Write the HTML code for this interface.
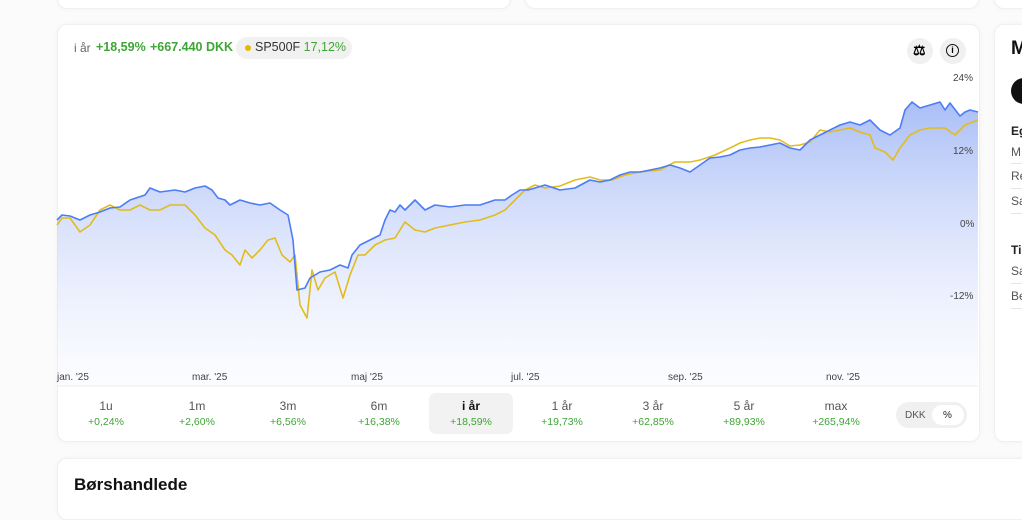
<!DOCTYPE html>
<html><head><meta charset="utf-8"><style>
body{margin:0;width:1022px;height:500px;overflow:hidden;background:#fbfbfb;font-family:"Liberation Sans",sans-serif;position:relative}
.card{position:absolute;background:#fff;border:1px solid #f0f0f0;border-radius:10px;box-shadow:0 0 6px rgba(0,0,0,.04)}
.t{position:absolute;white-space:nowrap}
.g{color:#3fa535}
.btn{position:absolute;width:26px;height:26px;border-radius:50%;background:#f0f0f0;top:38px}
.per{position:absolute;top:393px;width:84px;height:41px;text-align:center;font-size:11px}
.per .a{color:#555;margin-top:6px;font-size:12px}
.per .b{color:#3fa535;margin-top:3px;font-size:10.5px}
.ax{position:absolute;font-size:10px;color:#444}
</style></head><body>
<div class="card" style="left:57px;top:-12px;width:452px;height:19px"></div>
<div class="card" style="left:525px;top:-12px;width:452px;height:19px"></div>
<div class="card" style="left:994px;top:-12px;width:60px;height:19px"></div>
<div class="card" style="left:57px;top:24px;width:921px;height:416px"></div>
<div class="card" style="left:994px;top:24px;width:60px;height:416px"></div>
<div class="card" style="left:57px;top:458px;width:1000px;height:60px"></div>
<div class="t" style="left:74px;top:475px;font-size:17px;font-weight:bold;color:#111">Børshandlede</div>
<div class="t" style="left:1011px;top:38px;font-size:19px;font-weight:bold;color:#111">M</div>
<div style="position:absolute;left:1011px;top:78px;width:26px;height:26px;border-radius:50%;background:#111"></div>
<div class="t" style="left:1011px;top:124px;font-size:12px;font-weight:bold;color:#222">Eg</div>
<div class="t" style="left:1011px;top:145px;font-size:12px;color:#555">M</div>
<div class="t" style="left:1011px;top:169px;font-size:12px;color:#555">Re</div>
<div class="t" style="left:1011px;top:194px;font-size:12px;color:#555">Sa</div>
<div class="t" style="left:1011px;top:243px;font-size:12px;font-weight:bold;color:#222">Ti</div>
<div class="t" style="left:1011px;top:264px;font-size:12px;color:#555">Sa</div>
<div class="t" style="left:1011px;top:289px;font-size:12px;color:#555">Be</div>
<div style="position:absolute;left:1011px;top:163px;width:20px;border-top:1px solid #e5e5e5"></div>
<div style="position:absolute;left:1011px;top:188px;width:20px;border-top:1px solid #e5e5e5"></div>
<div style="position:absolute;left:1011px;top:213px;width:20px;border-top:1px solid #e5e5e5"></div>
<div style="position:absolute;left:1011px;top:283px;width:20px;border-top:1px solid #e5e5e5"></div>
<div style="position:absolute;left:1011px;top:308px;width:20px;border-top:1px solid #e5e5e5"></div>

<div class="t" style="left:74px;top:41px;font-size:12px;color:#666">i år</div>
<div class="t g" style="left:96px;top:40px;font-size:12.5px;font-weight:bold">+18,59%</div>
<div class="t g" style="left:150px;top:40px;font-size:12.5px;font-weight:bold">+667.440 DKK</div>
<div style="position:absolute;left:236px;top:37px;width:116px;height:22px;border-radius:11px;background:#f1f1f1"></div>
<div style="position:absolute;left:245px;top:45px;width:6px;height:6px;border-radius:50%;background:#e6b800"></div>
<div class="t" style="left:255px;top:40px;font-size:12.5px;color:#333">SP500F <span class="g">17,12%</span></div>
<div class="btn" style="left:907px"><span class="t" style="left:6px;top:4px;font-size:14px;font-weight:bold">⚖</span></div>
<div class="btn" style="left:940px"><span style="position:absolute;left:6px;top:6px;width:11px;height:11px;border:1.8px solid #111;border-radius:50%;font-size:9px;font-weight:bold;text-align:center;line-height:11px">i</span></div>

<svg style="position:absolute;left:0;top:0" width="1022" height="500">
<defs><linearGradient id="gr" x1="0" y1="0" x2="0" y2="1"><stop offset="0" stop-color="#9bb3f5" stop-opacity=".85"/><stop offset="1" stop-color="#f4f6ff" stop-opacity=".3"/></linearGradient></defs>
<path id="bl" d="M57,220 L62,215 70,216 80,220 90,215 100,212 110,208 120,207 130,200 145,195 150,188 160,192 175,190 185,192 195,188 205,186 212,190 218,198 225,200 230,205 240,200 250,203 260,205 270,203 280,210 288,215 293,240 297,290 305,288 310,278 320,272 330,270 340,265 348,268 352,255 360,245 370,240 380,235 385,220 390,210 395,212 400,205 405,210 415,200 425,210 435,205 450,207 465,205 480,205 495,200 505,200 512,195 520,190 528,190 535,188 545,185 560,190 575,188 590,180 600,182 610,180 620,175 630,172 640,172 650,170 660,168 670,165 680,168 690,172 700,165 710,158 720,157 730,155 740,150 750,148 760,147 770,145 780,143 790,148 800,150 810,140 820,135 830,130 840,125 850,122 860,125 870,120 880,130 890,135 900,128 905,110 912,102 920,108 930,105 940,102 945,110 950,103 960,116 965,112 970,110 978,112" fill="none"/>
<path d="M57,220 L62,215 70,216 80,220 90,215 100,212 110,208 120,207 130,200 145,195 150,188 160,192 175,190 185,192 195,188 205,186 212,190 218,198 225,200 230,205 240,200 250,203 260,205 270,203 280,210 288,215 293,240 297,290 305,288 310,278 320,272 330,270 340,265 348,268 352,255 360,245 370,240 380,235 385,220 390,210 395,212 400,205 405,210 415,200 425,210 435,205 450,207 465,205 480,205 495,200 505,200 512,195 520,190 528,190 535,188 545,185 560,190 575,188 590,180 600,182 610,180 620,175 630,172 640,172 650,170 660,168 670,165 680,168 690,172 700,165 710,158 720,157 730,155 740,150 750,148 760,147 770,145 780,143 790,148 800,150 810,140 820,135 830,130 840,125 850,122 860,125 870,120 880,130 890,135 900,128 905,110 912,102 920,108 930,105 940,102 945,110 950,103 960,116 965,112 970,110 978,112 L978,386 57,386Z" fill="url(#gr)"/>
<path d="M57,225 L62,218 70,218 80,232 90,225 100,210 110,205 120,210 130,210 140,205 150,210 160,210 170,205 185,205 195,215 205,228 215,235 225,250 232,255 240,265 245,250 252,258 260,250 268,240 275,238 282,255 290,262 295,255 300,305 307,318 312,270 318,290 325,278 335,272 343,298 350,275 358,255 365,255 375,245 385,240 395,238 405,222 415,230 425,232 435,228 450,225 465,222 480,220 495,215 505,210 515,200 525,190 535,185 545,188 560,186 575,180 590,177 600,180 612,180 625,175 640,172 660,170 675,162 690,162 700,160 715,155 730,148 740,143 750,140 760,138 770,138 780,140 790,146 800,145 810,142 820,130 830,132 840,130 850,128 860,132 870,135 875,148 885,152 893,160 900,148 910,135 920,130 930,128 945,128 955,135 965,125 978,120" fill="none" stroke="#e2bc1c" stroke-width="1.6" stroke-linejoin="round"/>
<use href="#bl" stroke="#4d7cf7" stroke-width="1.6" stroke-linejoin="round"/>
<line x1="57" y1="386" x2="978" y2="386" stroke="#eee"/>
</svg>
<div class="ax" style="left:953px;top:73px">24%</div>
<div class="ax" style="left:953px;top:146px">12%</div>
<div class="ax" style="left:960px;top:219px">0%</div>
<div class="ax" style="left:950px;top:291px">-12%</div>
<div class="ax" style="left:57px;top:372px">jan. '25</div>
<div class="ax" style="left:192px;top:372px">mar. '25</div>
<div class="ax" style="left:351px;top:372px">maj '25</div>
<div class="ax" style="left:511px;top:372px">jul. '25</div>
<div class="ax" style="left:668px;top:372px">sep. '25</div>
<div class="ax" style="left:826px;top:372px">nov. '25</div>

<div class="per" style="left:64px"><div class="a">1u</div><div class="b">+0,24%</div></div>
<div class="per" style="left:155px"><div class="a">1m</div><div class="b">+2,60%</div></div>
<div class="per" style="left:246px"><div class="a">3m</div><div class="b">+6,56%</div></div>
<div class="per" style="left:337px"><div class="a">6m</div><div class="b">+16,38%</div></div>
<div class="per" style="left:429px;background:#f2f2f2;border-radius:7px"><div class="a" style="color:#111;font-weight:bold">i år</div><div class="b">+18,59%</div></div>
<div class="per" style="left:520px"><div class="a">1 år</div><div class="b">+19,73%</div></div>
<div class="per" style="left:611px"><div class="a">3 år</div><div class="b">+62,85%</div></div>
<div class="per" style="left:702px"><div class="a">5 år</div><div class="b">+89,93%</div></div>
<div class="per" style="left:794px"><div class="a">max</div><div class="b">+265,94%</div></div>
<div style="position:absolute;left:896px;top:402px;width:71px;height:26px;border-radius:13px;background:#f0f0f0"></div>
<div class="t" style="left:905px;top:410px;font-size:10px;color:#555">DKK</div>
<div style="position:absolute;left:932px;top:405px;width:32px;height:20px;border-radius:10px;background:#fff"></div>
<div class="t" style="left:943px;top:410px;font-size:10px;color:#222">%</div>
</body></html>
